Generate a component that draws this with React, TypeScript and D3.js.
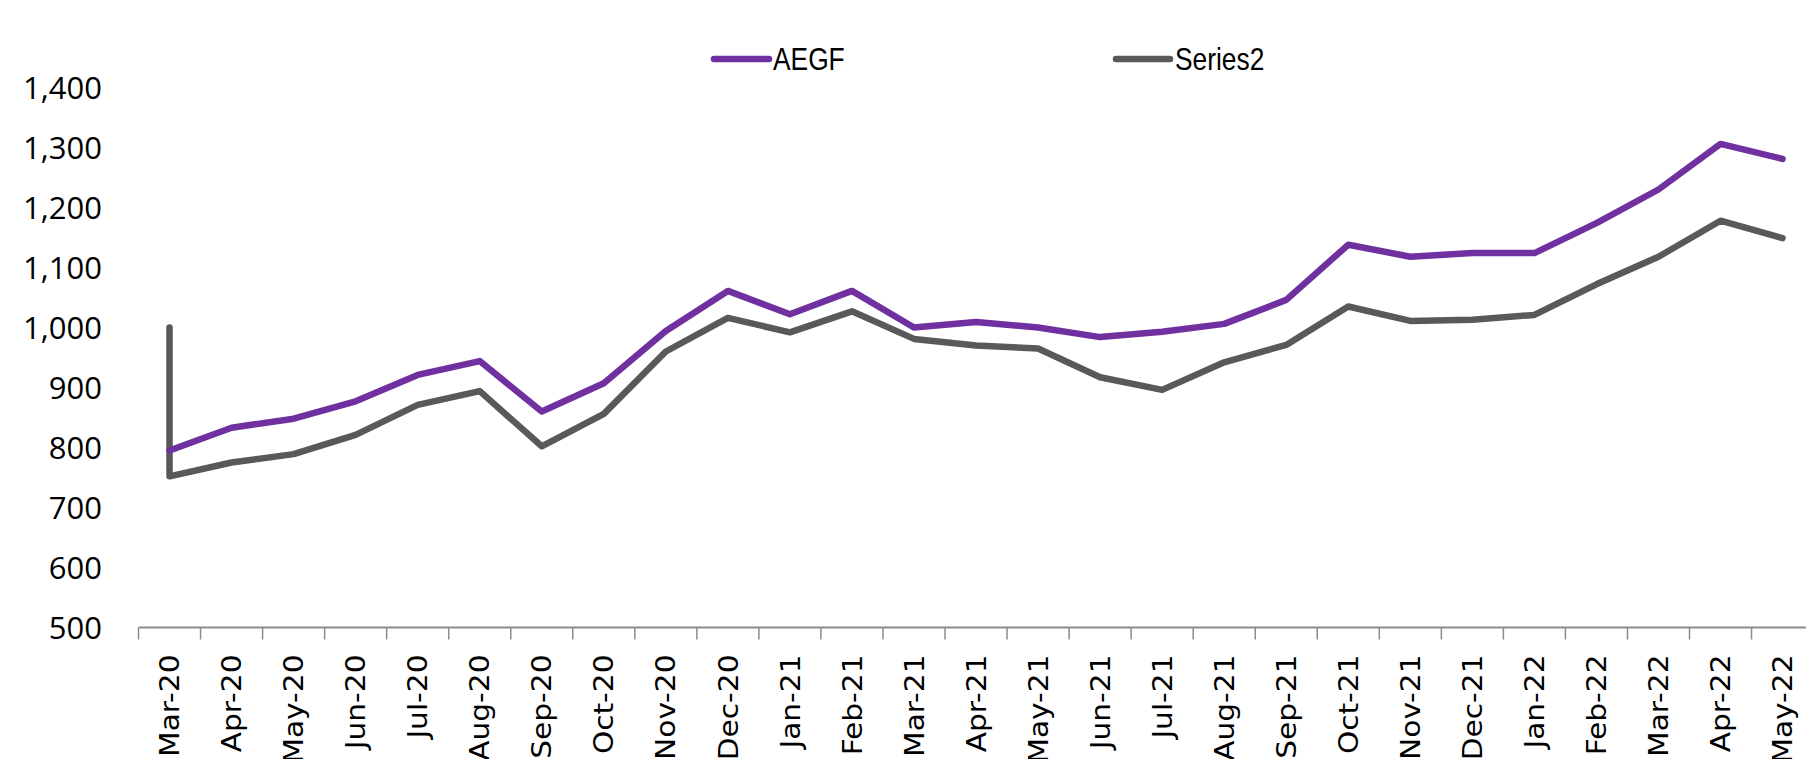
import React from "react";
import * as d3 from "d3";

const months = [
  "Mar-20", "Apr-20", "May-20", "Jun-20", "Jul-20", "Aug-20", "Sep-20", "Oct-20", "Nov-20",
  "Dec-20", "Jan-21", "Feb-21", "Mar-21", "Apr-21", "May-21", "Jun-21", "Jul-21", "Aug-21",
  "Sep-21", "Oct-21", "Nov-21", "Dec-21", "Jan-22", "Feb-22", "Mar-22", "Apr-22", "May-22",
];

const aegf = [
  795, 833, 848, 877, 921, 944, 860, 907, 994, 1061, 1022, 1061, 1000, 1009, 1000, 984, 993,
  1006, 1046, 1138, 1118, 1124, 1124, 1174, 1230, 1306, 1281,
];

const series2 = [
  752, 775, 789, 821, 871, 894, 802, 856, 960, 1016, 992, 1027, 981, 970, 965, 917, 896, 942,
  971, 1035, 1011, 1013, 1021, 1072, 1118, 1178, 1149,
];

// Series2 starts with an extra point drawn at the first category
const series2Lead = 1000;

const yTicks = [500, 600, 700, 800, 900, 1000, 1100, 1200, 1300, 1400];

const seriesNames = ["AEGF", "Series2"];
const seriesColors = ["#7030A0", "#595959"];

const W = 1806;
const H = 759;
const X0 = 138.5;
const STEP = 62.04;

export default function App() {
  const x = d3
    .scaleBand<string>()
    .domain(months)
    .range([X0, X0 + STEP * months.length])
    .paddingInner(0)
    .paddingOuter(0);
  const y = d3.scaleLinear().domain([500, 1400]).range([627.5, 87.5]);
  const cx = (m: string) => (x(m) as number) + x.bandwidth() / 2;

  const line = d3
    .line<{ m: string; v: number }>()
    .x((d) => cx(d.m))
    .y((d) => y(d.v));

  const aegfPts = aegf.map((v, i) => ({ m: months[i], v }));
  const s2Pts = [{ m: months[0], v: series2Lead }, ...series2.map((v, i) => ({ m: months[i], v }))];

  const axisY = y(500);
  const tickXs = [...months.map((m) => x(m) as number), X0 + STEP * months.length];

  const legendItems = [
    { name: seriesNames[0], color: seriesColors[0], x1: 714, x2: 769, tx: 773 },
    { name: seriesNames[1], color: seriesColors[1], x1: 1116, x2: 1170, tx: 1175 },
  ];

  return (
    <svg
      width={W}
      height={H}
      style={{ position: "absolute", left: 0, top: 0, background: "#fff" }}
    >
      {/* y tick labels */}
      {yTicks.map((t) => (
        <text
          key={t}
          x={102}
          y={y(t)}
          dy="0.36em"
          textAnchor="end"
          fontFamily="'Open Sans', sans-serif"
          fontSize={31}
          fill="#000"
        >
          {d3.format(",")(t)}
        </text>
      ))}

      {/* x axis */}
      <line
        x1={X0}
        x2={W + 20}
        y1={axisY}
        y2={axisY}
        stroke="#8c8c8c"
        strokeWidth={2}
      />
      {tickXs.map((tx, i) => (
        <line
          key={i}
          x1={tx}
          x2={tx}
          y1={axisY}
          y2={axisY + 12}
          stroke="#8c8c8c"
          strokeWidth={1.5}
        />
      ))}
      {months.map((m) => (
        <text
          key={m}
          transform={`translate(${cx(m)},${axisY + 27}) rotate(-90) scale(1.14,1)`}
          textAnchor="end"
          dy="0.37em"
          fontFamily="'DejaVu Sans', sans-serif"
          fontSize={26}
          fill="#000"
        >
          {m}
        </text>
      ))}

      {/* lines */}
      <path
        d={line(s2Pts) || ""}
        fill="none"
        stroke={seriesColors[1]}
        strokeWidth={6.5}
        strokeLinecap="round"
        strokeLinejoin="round"
      />
      <path
        d={line(aegfPts) || ""}
        fill="none"
        stroke={seriesColors[0]}
        strokeWidth={6.5}
        strokeLinecap="round"
        strokeLinejoin="round"
      />

      {/* legend */}
      {legendItems.map((l) => (
        <g key={l.name}>
          <line
            x1={l.x1}
            x2={l.x2}
            y1={59}
            y2={59}
            stroke={l.color}
            strokeWidth={6.5}
            strokeLinecap="round"
          />
          <text
            transform={`translate(${l.tx},59) scale(0.85,1)`}
            dy="0.36em"
            fontFamily="'Liberation Sans', sans-serif"
            fontSize={31}
            fill="#000"
          >
            {l.name}
          </text>
        </g>
      ))}
    </svg>
  );
}
